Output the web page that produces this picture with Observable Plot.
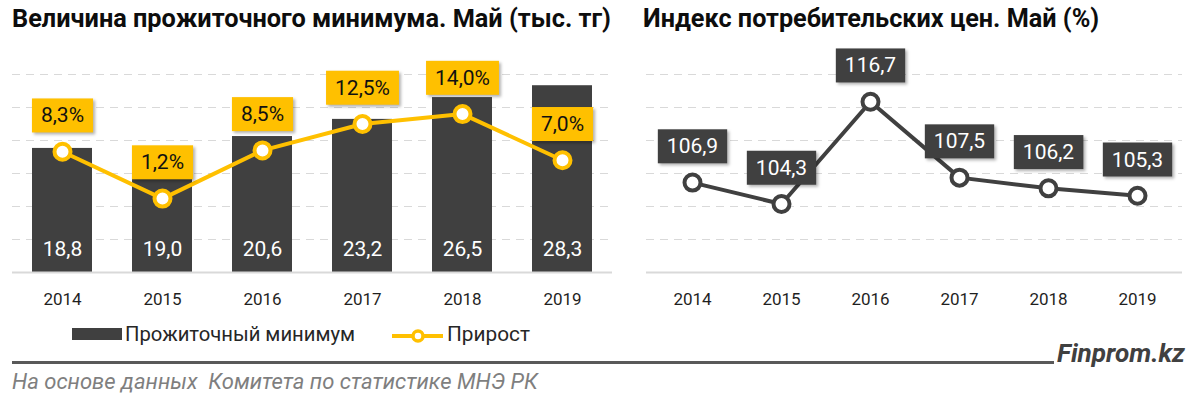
<!DOCTYPE html>
<html>
<head>
<meta charset="utf-8">
<script src="https://cdn.jsdelivr.net/npm/d3@7"></script>
<script src="https://cdn.jsdelivr.net/npm/@observablehq/plot@0.6"></script>
<style>
  html, body { margin: 0; padding: 0; }
  body { width: 1200px; height: 395px; background: #fff; position: relative; overflow: hidden;
         font-family: Roboto, "Open Sans", "DejaVu Sans", sans-serif; }
  .abs { position: absolute; }
  .title { font-weight: 700; color: #0d0d0d; white-space: nowrap; top: 5px; z-index: 5; line-height: 28px; }
  .leg { white-space: nowrap; color: #262626; line-height: 20px; }
  .caption { white-space: nowrap; color: #7f7f7f; font-style: italic; }
  .brand { white-space: nowrap; color: #404040; font-style: italic; font-weight: 700; }
  svg.plot { overflow: visible; }
</style>
</head>
<body>
<div id="t1" class="abs title" data-w="599" style="left:12px;font-size:22px">Величина прожиточного минимума. Май (тыс. тг)</div>
<div id="t2" class="abs title" data-w="456" style="left:643px;font-size:22px">Индекс потребительских цен. Май (%)</div>
<div id="left" class="abs" style="left:0;top:40px"></div>
<div id="leftLine" class="abs" style="left:0;top:40px"></div>
<div id="right" class="abs" style="left:620px;top:40px"></div>

<div class="abs" style="left:72px;top:328px;width:50px;height:12px;background:#404040"></div>
<div class="abs leg fit" data-w="230" style="left:125px;top:324px;font-size:18px">Прожиточный минимум</div>
<svg class="abs" style="left:390px;top:326px" width="56" height="20">
  <line x1="2" x2="53" y1="10" y2="10" stroke="#FFC000" stroke-width="4"></line>
  <circle cx="28" cy="10" r="5" fill="#fff" stroke="#FFC000" stroke-width="3.5"></circle>
</svg>
<div class="abs leg fit" data-w="83" style="left:447px;top:324px;font-size:18px">Прирост</div>

<div class="abs" style="left:12px;top:361px;width:1042px;height:3px;background:#595959"></div>
<div class="abs brand fit" data-w="128" style="left:1057px;top:341px;font-size:20px;line-height:24px">Finprom.kz</div>
<div class="abs caption fit" data-w="526" style="left:12px;top:372px;font-size:16px;line-height:20px">На основе данных&nbsp; Комитета по статистике МНЭ РК</div>

<script>
// ---- data ----
const years = ["2014", "2015", "2016", "2017", "2018", "2019"];
const subsistenceMinimum = [18.8, 19.0, 20.6, 23.2, 26.5, 28.3];   // тыс. тг
const growth = [8.3, 1.2, 8.5, 12.5, 14.0, 7.0];                    // %
const cpi = [106.9, 104.3, 116.7, 107.5, 106.2, 105.3];             // %
const leftGridTicks = [5, 10, 15, 20, 25, 30];
const rightGridTicks = [100, 104, 108, 112, 116, 120];

const fmt = v => v.toFixed(1).replace(".", ",");
const leftTable = years.map((y, i) => ({year: y, value: subsistenceMinimum[i], growth: growth[i]}));
const rightTable = years.map((y, i) => ({year: y, value: cpi[i]}));

const DARK = "#404040", YELLOW = "#FFC000", GRID = "#d9d9d9";
const FONT = "Roboto, 'Open Sans', sans-serif";

const common = {
  width: 620, height: 280, marginLeft: 12, marginRight: 8, marginTop: 34, marginBottom: 48,
  style: {fontFamily: FONT, background: "transparent", overflow: "visible"}
};
const xLeft = {domain: years, paddingInner: 0.4, paddingOuter: 0.2, label: null, axis: null};

// left: bars
const leftPlot = Plot.plot({
  ...common,
  x: xLeft,
  y: {domain: [0, 30], label: null, axis: null},
  marks: [
    Plot.ruleY(leftGridTicks, {stroke: GRID, strokeDasharray: "8,6", strokeWidth: 1}),
    Plot.barY(leftTable, {x: "year", y: "value", fill: DARK, style: "filter: drop-shadow(2px 1px 1.5px rgba(0,0,0,0.3))"}),
    Plot.ruleY([0], {stroke: GRID, strokeWidth: 2}),
    Plot.text(leftTable, {x: "year", y: 0, text: d => fmt(d.value), dy: -23, fill: "#ffffff", fontSize: 21}),
    Plot.axisX({tickSize: 0, tickPadding: 20, fontSize: 17, color: "#1f1f1f", label: null})
  ]
});
document.getElementById("left").append(leftPlot);

// left: growth line (own hidden y scale)
const leftLinePlot = Plot.plot({
  ...common,
  x: xLeft,
  y: {domain: [-10, 20], label: null, axis: null},
  marks: [
    Plot.line(leftTable, {x: "year", y: "growth", stroke: YELLOW, strokeWidth: 4}),
    Plot.dot(leftTable, {x: "year", y: "growth", r: 8, fill: "#ffffff", stroke: YELLOW, strokeWidth: 4}),
    Plot.text(leftTable, {x: "year", y: "growth", text: d => fmt(d.growth) + "%", dy: -36, fill: "#111111", fontSize: 21})
  ]
});
document.getElementById("leftLine").append(leftLinePlot);

// right: CPI line
const rightPlot = Plot.plot({
  width: 580, height: 280, marginLeft: 26, marginRight: 18, marginTop: 34, marginBottom: 48,
  style: {fontFamily: FONT, background: "transparent", overflow: "visible"},
  x: {type: "point", domain: years, padding: 0.5, label: null, axis: null},
  y: {domain: [96, 120], label: null, axis: null},
  marks: [
    Plot.ruleY(rightGridTicks, {stroke: GRID, strokeDasharray: "8,6", strokeWidth: 1}),
    Plot.ruleY([96], {stroke: GRID, strokeWidth: 2}),
    Plot.line(rightTable, {x: "year", y: "value", stroke: DARK, strokeWidth: 4}),
    Plot.dot(rightTable, {x: "year", y: "value", r: 8, fill: "#ffffff", stroke: DARK, strokeWidth: 4}),
    Plot.text(rightTable, {x: "year", y: "value", text: d => fmt(d.value), dy: -36, fill: "#ffffff", fontSize: 21}),
    Plot.axisX({tickSize: 0, tickPadding: 20, fontSize: 17, color: "#1f1f1f", label: null})
  ]
});
document.getElementById("right").append(rightPlot);

// label boxes behind value labels
function boxLabels(svg, fill) {
  svg.querySelectorAll('g[aria-label="text"] text').forEach(t => {
    const b = t.getBBox();
    const r = document.createElementNS("http://www.w3.org/2000/svg", "rect");
    const w = b.width + 18, h = 34;
    const cy = b.y + b.height / 2;
    const cx = b.x + b.width / 2;
    r.setAttribute("x", cx - w / 2);
    r.setAttribute("y", cy - h / 2);
    r.setAttribute("width", w);
    r.setAttribute("height", h);
    r.setAttribute("fill", fill);
    r.setAttribute("style", "filter: drop-shadow(2px 2px 1.5px rgba(0,0,0,0.3))");
    if (t.getAttribute("transform")) r.setAttribute("transform", t.getAttribute("transform"));
    t.parentNode.insertBefore(r, t);
  });
}
boxLabels(leftLinePlot, YELLOW);
boxLabels(rightPlot, DARK);

// fit text widths
document.querySelectorAll("[data-w]").forEach(el => {
  const target = +el.dataset.w;
  let fs = parseFloat(el.style.fontSize);
  for (let k = 0; k < 4; k++) {
    const w = el.getBoundingClientRect().width;
    fs = fs * target / w;
    el.style.fontSize = fs.toFixed(2) + "px";
  }
});
</script>
</body>
</html>
